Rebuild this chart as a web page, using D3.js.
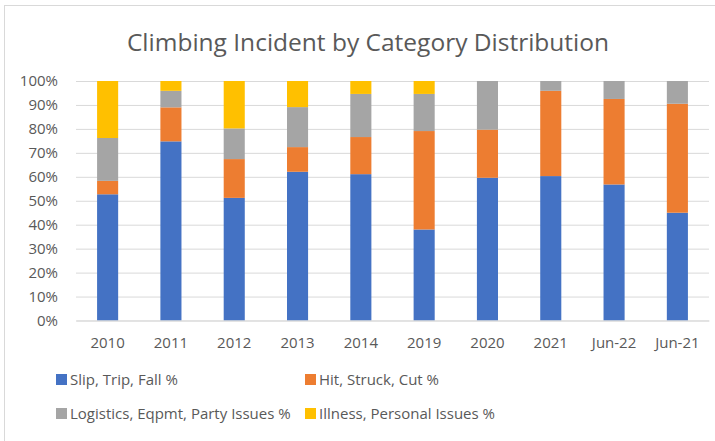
<!DOCTYPE html>
<meta charset="utf-8">
<style>
body { margin: 0; background: #fff; }
text { font-family: "Open Sans", sans-serif; fill: #595959; }
.tick line { stroke: #d9d9d9; }
</style>
<svg width="715" height="441"></svg>
<script src="https://cdn.jsdelivr.net/npm/d3@7"></script>
<script>

// categories and series (percent of incidents per year)
const years = ["2010", "2011", "2012", "2013", "2014", "2019", "2020", "2021", "Jun-22", "Jun-21"];
const slipTripFall   = [52.7, 74.8, 51.2, 62.1, 61.1, 38.0, 59.6, 60.3, 56.8, 45.0];
const hitStruckCut   = [5.6, 14.2, 16.2, 10.3, 15.5, 41.1, 20.1, 35.6, 35.7, 45.5];
const logistics      = [17.9, 6.9, 12.8, 16.7, 18.0, 15.5, 20.3, 4.1, 7.5, 9.5];
const illness        = [23.8, 4.1, 19.8, 10.9, 5.4, 5.4, 0, 0, 0, 0];
const seriesNames = ["Slip, Trip, Fall %", "Hit, Struck, Cut %", "Logistics, Eqpmt, Party Issues %", "Illness, Personal Issues %"];
const seriesColors = ["#4472C4", "#ED7D31", "#A5A5A5", "#FFC000"];
const yTicks = [0, 0.1, 0.2, 0.3, 0.4, 0.5, 0.6, 0.7, 0.8, 0.9, 1];

const svg = d3.select("svg");

// chart frame
svg.append("rect")
    .attr("x", 4.5).attr("y", 5.5)
    .attr("width", 720).attr("height", 450)
    .attr("fill", "none")
    .attr("stroke", "#d9d9d9");

// title
svg.append("text")
    .attr("x", 368).attr("y", 51)
    .attr("text-anchor", "middle")
    .style("font-size", "24.5px")
    .text("Climbing Incident by Category Distribution");

// rows for the stack
const rows = years.map((yr, i) => ({
  year: yr,
  s0: slipTripFall[i], s1: hitStruckCut[i], s2: logistics[i], s3: illness[i]
}));
const keys = ["s0", "s1", "s2", "s3"];
const stacked = d3.stack().keys(keys).offset(d3.stackOffsetExpand)(rows);

const x = d3.scaleBand()
    .domain(years)
    .range([76, 709])
    .paddingInner(0.667)
    .paddingOuter(0.333);

const y = d3.scaleLinear()
    .domain([0, 1])
    .range([320.5, 81]);

// gridlines + y labels
const yAxis = svg.append("g")
    .attr("transform", "translate(76,0)")
    .call(d3.axisLeft(y).tickValues(yTicks).tickFormat(d3.format(".0%")).tickSize(-633).tickPadding(18));
yAxis.select(".domain").remove();
yAxis.selectAll("text").style("font-size", "15px").attr("fill", "#595959");

// bars
svg.append("g").selectAll("g")
    .data(stacked)
    .enter().append("g")
    .attr("fill", (d, i) => seriesColors[i])
  .selectAll("rect")
    .data(d => d)
    .enter().append("rect")
    .attr("x", d => x(d.data.year))
    .attr("width", x.bandwidth())
    .attr("y", d => y(d[1]))
    .attr("height", d => y(d[0]) - y(d[1]));

// x labels
const xAxis = svg.append("g")
    .attr("transform", "translate(0,320.5)")
    .call(d3.axisBottom(x).tickSize(0).tickPadding(17));
xAxis.select(".domain").attr("stroke", "#d9d9d9");
xAxis.selectAll("text").style("font-size", "15px").attr("fill", "#595959");

// legend, two rows of two
const legendPos = [[56, 374], [305, 374], [56, 408], [305, 408]];
const legend = svg.append("g").selectAll("g")
    .data(seriesNames)
    .enter().append("g")
    .attr("transform", (d, i) => `translate(${legendPos[i][0]},${legendPos[i][1]})`);
legend.append("rect")
    .attr("width", 11).attr("height", 11)
    .attr("fill", (d, i) => seriesColors[i]);
legend.append("text")
    .attr("x", 14).attr("y", 11)
    .style("font-size", "15px")
    .text(d => d);

</script>
